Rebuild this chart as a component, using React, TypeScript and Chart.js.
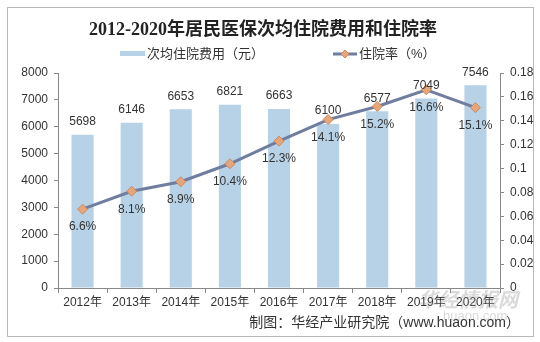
import React, { useEffect, useRef } from "react";
import { Chart, registerables } from "chart.js";

Chart.register(...registerables);

const categories = ["2012年", "2013年", "2014年", "2015年", "2016年", "2017年", "2018年", "2019年", "2020年"];
const costValues = [5698, 6146, 6653, 6821, 6663, 6100, 6577, 7049, 7546];
const rateValues = [0.066, 0.081, 0.089, 0.104, 0.123, 0.141, 0.152, 0.166, 0.151];
const rateLabels = ["6.6%", "8.1%", "8.9%", "10.4%", "12.3%", "14.1%", "15.2%", "16.6%", "15.1%"];
const leftTicks = [0, 1000, 2000, 3000, 4000, 5000, 6000, 7000, 8000];
const rightTicks = [0, 0.02, 0.04, 0.06, 0.08, 0.1, 0.12, 0.14, 0.16, 0.18];

const TITLE = "2012-2020年居民医保次均住院费用和住院率";
const LEGEND_BAR = "次均住院费用（元）";
const LEGEND_LINE = "住院率（%）";
const FOOTER = "制图：华经产业研究院（www.huaon.com）";

const BAR_COLOR = "#b7d2e6";
const LINE_COLOR = "#6f7d9f";
const POINT_FILL = "#e6a679";
const POINT_BORDER = "#c98a5e";
const TEXT = "#333333";
const LATIN = "'Liberation Sans', 'Noto Sans CJK SC', Arial, sans-serif";
const MIXED = "'Liberation Sans', 'Noto Sans CJK SC', sans-serif";
const TITLE_FONT = "'Liberation Serif', 'Noto Sans CJK SC', serif";

const decorPlugin = {
  id: "decor",
  beforeDraw(chart: any) {
    const ctx = chart.ctx;
    ctx.save();
    ctx.fillStyle = "#ffffff";
    ctx.fillRect(0, 0, chart.width, chart.height);
    ctx.strokeStyle = "#b8b8b8";
    ctx.lineWidth = 1;
    ctx.strokeRect(7.5, 7.5, 526, 329);
    ctx.restore();
  },
  afterDraw(chart: any) {
    const ctx = chart.ctx;
    ctx.save();
    // title
    ctx.fillStyle = "#222";
    ctx.font = `bold 18px ${TITLE_FONT}`;
    ctx.textAlign = "center";
    ctx.textBaseline = "middle";
    ctx.fillText(TITLE, 263, 30);
    // legend
    ctx.font = `13px ${MIXED}`;
    ctx.textAlign = "left";
    ctx.fillStyle = BAR_COLOR;
    ctx.fillRect(120, 51, 25, 5);
    ctx.fillStyle = TEXT;
    ctx.fillText(LEGEND_BAR, 147, 54);
    ctx.strokeStyle = LINE_COLOR;
    ctx.lineWidth = 3;
    ctx.beginPath();
    ctx.moveTo(333, 54);
    ctx.lineTo(357, 54);
    ctx.stroke();
    ctx.fillStyle = POINT_FILL;
    ctx.strokeStyle = POINT_BORDER;
    ctx.lineWidth = 1;
    ctx.beginPath();
    ctx.moveTo(345, 50);
    ctx.lineTo(349, 54);
    ctx.lineTo(345, 58);
    ctx.lineTo(341, 54);
    ctx.closePath();
    ctx.fill();
    ctx.stroke();
    ctx.fillStyle = TEXT;
    ctx.fillText(LEGEND_LINE, 359, 54);
    // watermark
    ctx.fillStyle = "rgba(150,150,150,0.35)";
    ctx.font = `bold italic 20px 'Noto Sans CJK SC', sans-serif`;
    ctx.fillText("华经情报网", 418, 299);
    ctx.font = `13px 'Liberation Sans', sans-serif`;
    ctx.fillText("huaon.com", 443, 316);
    // footer
    ctx.fillStyle = TEXT;
    ctx.font = `14px ${MIXED}`;
    ctx.textAlign = "right";
    ctx.fillText(FOOTER, 520, 323);
    // data labels
    const barMeta = chart.getDatasetMeta(1);
    const lineMeta = chart.getDatasetMeta(0);
    ctx.font = `12px 'Liberation Sans', Arial, sans-serif`;
    ctx.textAlign = "center";
    ctx.fillStyle = TEXT;
    barMeta.data.forEach((el: any, i: number) => {
      ctx.fillText(String(costValues[i]), el.x, el.y - 13);
    });
    lineMeta.data.forEach((el: any, i: number) => {
      ctx.fillText(rateLabels[i], el.x, el.y + 18);
    });
    ctx.restore();
  },
};

export default function App() {
  const ref = useRef<HTMLCanvasElement>(null);
  useEffect(() => {
    if (!ref.current) return;
    const chart = new Chart(ref.current, {
      type: "bar",
      data: {
        labels: categories,
        datasets: [
          {
            type: "line",
            label: LEGEND_LINE,
            data: rateValues,
            yAxisID: "y1",
            borderColor: LINE_COLOR,
            borderWidth: 3,
            pointStyle: "rectRot",
            pointRadius: 5,
            pointBackgroundColor: POINT_FILL,
            pointBorderColor: POINT_BORDER,
            pointBorderWidth: 1,
            tension: 0,
            order: 0,
          } as any,
          {
            type: "bar",
            label: LEGEND_BAR,
            data: costValues,
            yAxisID: "y",
            backgroundColor: BAR_COLOR,
            barPercentage: 0.45,
            categoryPercentage: 1,
            order: 1,
          },
        ],
      },
      options: {
        responsive: false,
        animation: false,
        layout: { padding: { top: 73, left: 0, right: 0, bottom: 0 } },
        plugins: { legend: { display: false }, title: { display: false }, tooltip: { enabled: false } },
        scales: {
          x: {
            grid: { display: true, drawOnChartArea: false, tickLength: 5, color: "#888", offset: true },
            border: { color: "#888" },
            ticks: { color: TEXT, font: { family: LATIN, size: 12 }, padding: 2, maxRotation: 0 },
            afterFit: (s: any) => { s.height = 54; },
          },
          y: {
            position: "left",
            min: 0,
            max: 8000,
            afterBuildTicks: (s: any) => { s.ticks = leftTicks.map((v) => ({ value: v })); },
            grid: { display: true, drawOnChartArea: false, tickLength: 4, color: "#888" },
            border: { color: "#888" },
            ticks: {
              color: TEXT,
              font: { family: LATIN, size: 12 },
              padding: 6,
              callback: (v: any) => String(v),
            },
            afterFit: (s: any) => { s.width = 58; },
          },
          y1: {
            position: "right",
            min: 0,
            max: 0.18,
            afterBuildTicks: (s: any) => { s.ticks = rightTicks.map((v) => ({ value: v })); },
            grid: { display: true, drawOnChartArea: false, tickLength: 4, color: "#888" },
            border: { color: "#888" },
            ticks: {
              color: TEXT,
              font: { family: LATIN, size: 12 },
              padding: 6,
              callback: (v: any) => String(Math.round(Number(v) * 100) / 100),
            },
            afterFit: (s: any) => { s.width = 40; },
          },
        },
      },
      plugins: [decorPlugin],
    });
    return () => chart.destroy();
  }, []);
  return (
    <div style={{ position: "absolute", left: 0, top: 0, width: 540, height: 342 }}>
      <canvas ref={ref} width={540} height={342} style={{ width: 540, height: 342 }} />
    </div>
  );
}
